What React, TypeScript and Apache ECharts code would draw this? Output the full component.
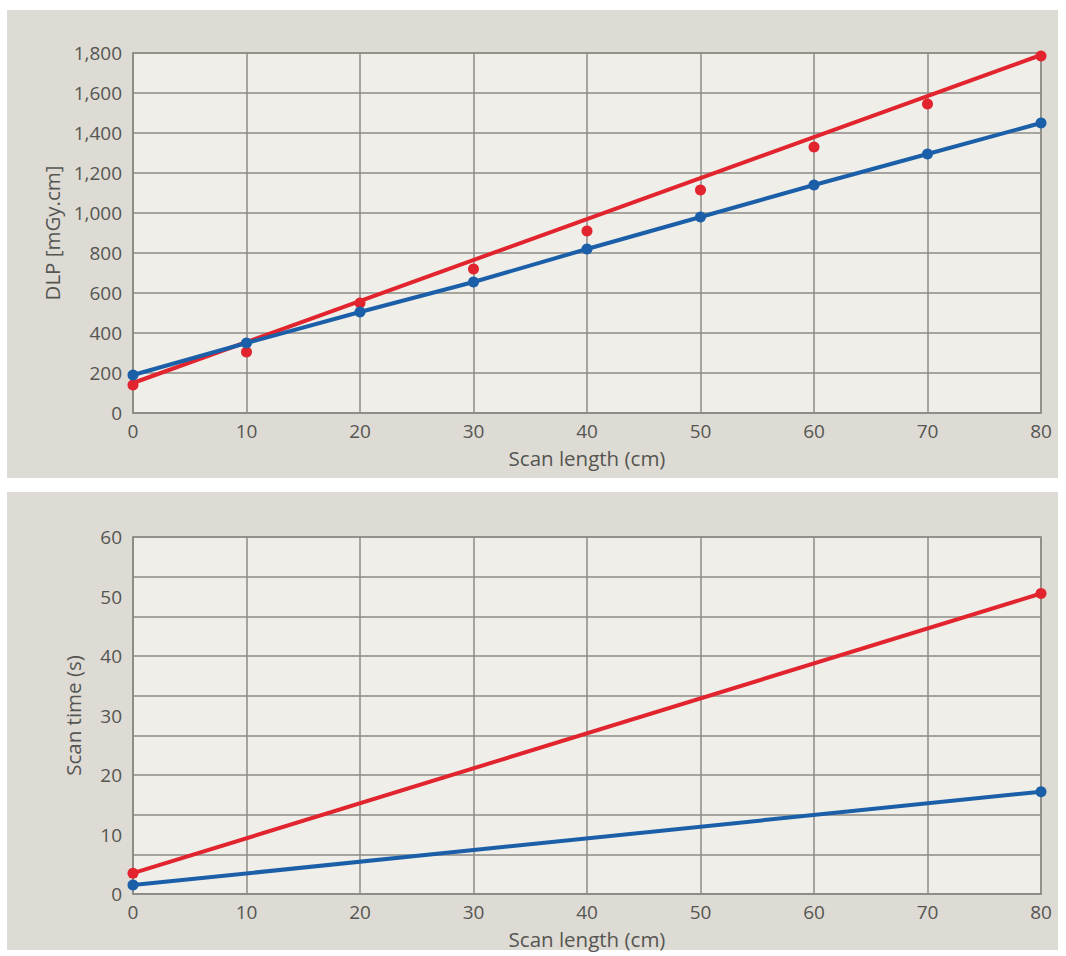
import React, { useEffect, useRef } from "react";
import * as echarts from "echarts";

// Top chart: DLP vs scan length
const scanLength = [0, 10, 20, 30, 40, 50, 60, 70, 80];
const dlpBlue = [190, 350, 505, 655, 820, 980, 1140, 1295, 1450];
const dlpRedPoints = [140, 305, 550, 720, 910, 1115, 1330, 1545, 1785];
const dlpRedFitX = [0, 80];
const dlpRedFit = [150, 1790];

// Bottom chart: scan time vs scan length
const timeX = [0, 80];
const timeRed = [3.5, 50.5];
const timeBlue = [1.5, 17.2];

const RED = "#e1242d";
const BLUE = "#1a5fa8";
const GRID_LINE = "#8c8b86";
const PLOT_BG = "#efeee8";
const PANEL_BG = "#dedbd4";
const TEXT = "#555552";
const FONT = "Open Sans";

export default function App() {
  const ref = useRef<HTMLDivElement>(null);

  useEffect(() => {
    if (!ref.current) return;
    const chart = echarts.init(ref.current, undefined, { renderer: "svg" });

    const label = { color: TEXT, fontFamily: FONT, fontSize: 19, lineHeight: 19 };
    const nameStyle = { color: TEXT, fontFamily: FONT, fontSize: 20.5, lineHeight: 20 };
    const line = { show: true, lineStyle: { color: GRID_LINE, width: 1.5 } };

    const xAxisBase = (gi: number, gap: number) => ({
      type: "value",
      gridIndex: gi,
      min: 0,
      max: 80,
      interval: 10,
      axisLine: line,
      axisTick: { show: false },
      axisLabel: { ...label, margin: 8 },
      splitLine: line,
      name: "Scan length (cm)",
      nameLocation: "middle",
      nameGap: gap,
      nameTextStyle: nameStyle,
    });

    chart.setOption({
      animation: false,
      backgroundColor: "#ffffff",
      graphic: {
        elements: [
          { type: "rect", z: -10, shape: { x: 7, y: 10, width: 1051, height: 468 }, style: { fill: PANEL_BG } },
          { type: "rect", z: -10, shape: { x: 7, y: 492, width: 1051, height: 458 }, style: { fill: PANEL_BG } },
        ],
      },
      grid: [
        { left: 133, top: 53, width: 908, height: 360, show: true, backgroundColor: PLOT_BG, borderColor: GRID_LINE, borderWidth: 1.5 },
        { left: 133, top: 537, width: 908, height: 357, show: true, backgroundColor: PLOT_BG, borderColor: GRID_LINE, borderWidth: 1.5 },
      ],
      xAxis: [xAxisBase(0, 35), xAxisBase(1, 35)],
      yAxis: [
        {
          type: "value",
          gridIndex: 0,
          min: 0,
          max: 1800,
          interval: 200,
          axisLine: line,
          axisTick: { show: false },
          axisLabel: { ...label, margin: 11, formatter: (v: number) => v.toLocaleString("en-US") },
          splitLine: line,
          name: "DLP [mGy.cm]",
          nameLocation: "middle",
          nameGap: 66,
          nameTextStyle: nameStyle,
        },
        {
          type: "value",
          gridIndex: 1,
          min: 0,
          max: 60,
          interval: 10,
          axisLine: line,
          axisTick: { show: false },
          axisLabel: { ...label, margin: 11 },
          splitLine: { show: false },
          name: "Scan time (s)",
          nameLocation: "middle",
          nameGap: 50,
          nameTextStyle: nameStyle,
        },
        {
          type: "value",
          gridIndex: 1,
          position: "right",
          min: 0,
          max: 9,
          interval: 1,
          axisLine: { show: false },
          axisTick: { show: false },
          axisLabel: { show: false },
          splitLine: line,
        },
      ],
      series: [
        {
          type: "line",
          xAxisIndex: 0,
          yAxisIndex: 0,
          data: dlpRedFitX.map((x, i) => [x, dlpRedFit[i]]),
          showSymbol: false,
          lineStyle: { color: RED, width: 4 },
          itemStyle: { color: RED },
          z: 3,
        },
        {
          type: "scatter",
          xAxisIndex: 0,
          yAxisIndex: 0,
          data: scanLength.map((x, i) => [x, dlpRedPoints[i]]),
          symbol: "circle",
          symbolSize: 11,
          itemStyle: { color: RED, opacity: 1 },
          z: 4,
        },
        {
          type: "line",
          xAxisIndex: 0,
          yAxisIndex: 0,
          data: scanLength.map((x, i) => [x, dlpBlue[i]]),
          symbol: "circle",
          symbolSize: 11,
          lineStyle: { color: BLUE, width: 4 },
          itemStyle: { color: BLUE },
          z: 5,
        },
        {
          type: "line",
          xAxisIndex: 1,
          yAxisIndex: 1,
          data: timeX.map((x, i) => [x, timeRed[i]]),
          symbol: "circle",
          symbolSize: 11,
          lineStyle: { color: RED, width: 4 },
          itemStyle: { color: RED },
          z: 4,
        },
        {
          type: "line",
          xAxisIndex: 1,
          yAxisIndex: 1,
          data: timeX.map((x, i) => [x, timeBlue[i]]),
          symbol: "circle",
          symbolSize: 11,
          lineStyle: { color: BLUE, width: 4 },
          itemStyle: { color: BLUE },
          z: 5,
        },
      ],
    });

    return () => chart.dispose();
  }, []);

  return (
    <div
      ref={ref}
      style={{ position: "absolute", left: 0, top: 0, width: 1066, height: 956 }}
    />
  );
}
